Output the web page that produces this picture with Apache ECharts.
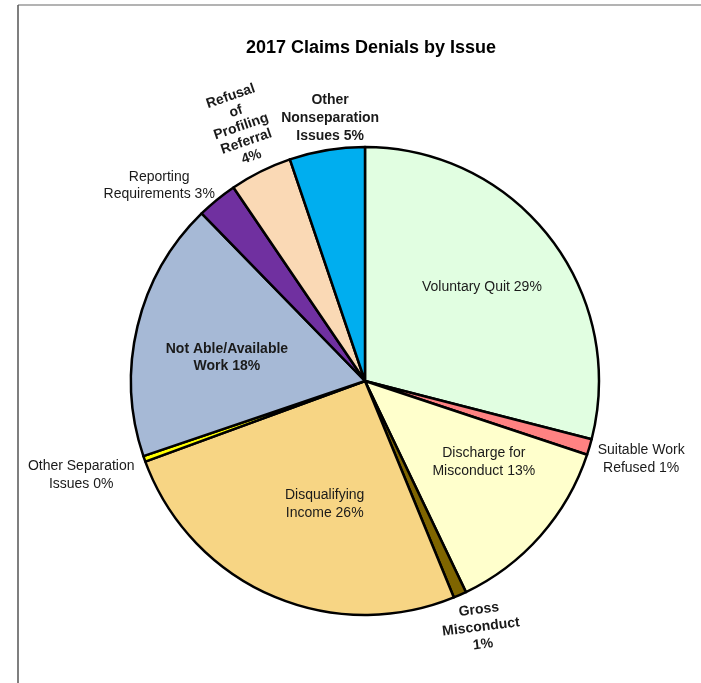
<!DOCTYPE html>
<html>
<head>
<meta charset="utf-8">
<script src="https://cdn.jsdelivr.net/npm/echarts@6/dist/echarts.min.js"></script>
<style>
html,body{margin:0;padding:0;background:#fff;}
#chart{width:701px;height:683px;}
</style>
</head>
<body>
<div id="chart"></div>
<script>
const title = '2017 Claims Denials by Issue';
const categories = ['Voluntary Quit', 'Suitable Work Refused', 'Discharge for Misconduct', 'Gross Misconduct',
  'Disqualifying Income', 'Other Separation Issues', 'Not Able/Available Work', 'Reporting Requirements',
  'Refusal of Profiling Referral', 'Other Nonseparation Issues'];
const values = [29.0, 1.1, 12.8, 0.9, 25.6, 0.4, 17.9, 2.8, 4.3, 5.2];
const labelTemplates = ['Voluntary Quit {p}%', 'Suitable Work\nRefused {p}%', 'Discharge for\nMisconduct {p}%',
  'Gross\nMisconduct\n{p}%', 'Disqualifying\nIncome {p}%', 'Other Separation\nIssues {p}%',
  'Not Able/Available\nWork {p}%', 'Reporting\nRequirements {p}%', 'Refusal\nof\nProfiling\nReferral\n{p}%',
  'Other\nNonseparation\nIssues {p}%'];
const colors = ['#E1FEE1', '#FF8282', '#FFFFCC', '#7F6500', '#F7D584', '#FFFF00', '#A6B9D6', '#7030A0', '#FAD9B5', '#00AEEF'];

// layout / style config
const CX = 365, CY = 381, R = 234;
const labelRadius = [150, 287, 144, 272, 130, 299, 140, 284, 283, 265];
const labelAngleShift = [-1, -0.6, -7, -1.3, -5.7, 1.1, -4, -7.2, 0.5, 1.8];
const labelRotate = [0, 0, 0, 7, 0, 0, 0, 0, 19, 0];
const boldLabel = [false, false, false, true, false, false, true, false, true, true];
const labelLineHeight = [18, 18, 18, 17.5, 18, 18, 17, 17, 16, 18];

const total = values.reduce((a, b) => a + b, 0);
const midAngles = [];
let acc = 0;
values.forEach(v => { midAngles.push((acc + v / 2) / total * 360); acc += v; });

const chart = echarts.init(document.getElementById('chart'), null, {renderer: 'canvas'});
const FONT = "'Liberation Sans', Arial, sans-serif";

chart.setOption({
  animation: false,
  backgroundColor: '#ffffff',
  title: {
    text: title,
    left: 366,
    textAlign: 'center',
    top: 34,
    textStyle: {fontFamily: FONT, fontSize: 18, fontWeight: 'bold', color: '#000'}
  },
  graphic: [
    {type: 'line', shape: {x1: 18, y1: 5, x2: 701, y2: 5}, style: {stroke: '#9a9a9a', lineWidth: 1.5}},
    {type: 'line', shape: {x1: 18, y1: 5, x2: 18, y2: 683}, style: {stroke: '#555555', lineWidth: 1.5}}
  ],
  series: [{
    type: 'pie',
    center: [CX, CY],
    radius: R,
    startAngle: 90,
    clockwise: true,
    avoidLabelOverlap: false,
    minAngle: 0,
    itemStyle: {borderColor: '#000', borderWidth: 2.5},
    emphasis: {disabled: true},
    labelLine: {show: false},
    label: {
      show: true,
      position: 'outside',
      fontFamily: FONT,
      fontSize: 14,
      color: '#1a1a1a',
      formatter: p => labelTemplates[p.dataIndex].replace('{p}', Math.round(p.percent))
    },
    labelLayout: function (params) {
      const i = params.dataIndex;
      const a = (midAngles[i] + labelAngleShift[i]) * Math.PI / 180;
      return {
        x: CX + labelRadius[i] * Math.sin(a),
        y: CY - labelRadius[i] * Math.cos(a),
        align: 'center',
        verticalAlign: 'middle',
        rotate: labelRotate[i]
      };
    },
    data: categories.map((c, i) => ({
      name: c,
      value: values[i],
      itemStyle: {color: colors[i]},
      label: {fontWeight: boldLabel[i] ? 'bold' : 'normal', lineHeight: labelLineHeight[i]}
    }))
  }]
});
</script>
</body>
</html>
